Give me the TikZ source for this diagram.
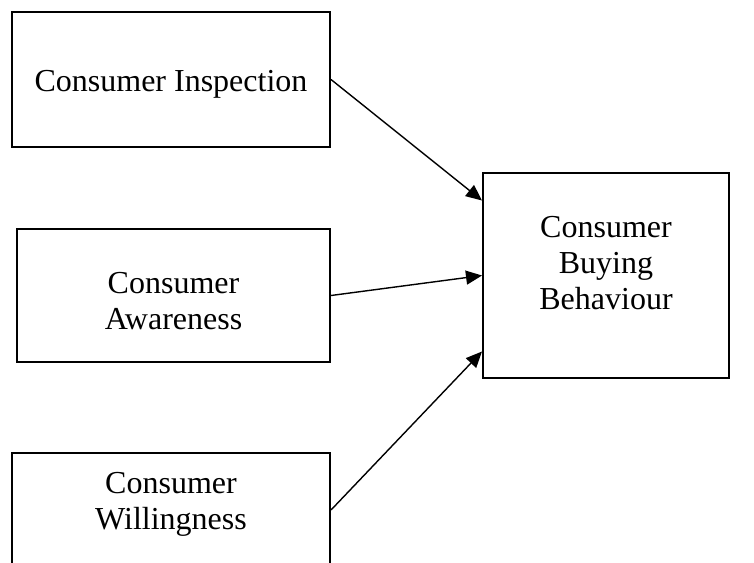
\documentclass[tikz,border=0pt]{standalone}
\usepackage{fontspec}
\setmainfont{Liberation Serif}
\usetikzlibrary{arrows.meta}

\begin{document}
\begin{tikzpicture}[x=0.5pt, y=-0.5pt,
  boite/.style={draw, line width=1pt, inner sep=0pt},
  texte/.style={align=center, font=\fontsize{16}{18}\selectfont},
  fleche/.style={-{Triangle[length=8pt,width=7pt]}, line width=0.7pt}]
\useasboundingbox (0,0) rectangle (754,562);
\clip (0,0) rectangle (754,562);
\foreach \n/\x/\y/\w/\h/\ty/\t in {insp/171/79.5/318/135/84/Consumer Inspection,
    awar/173.5/295.5/313/133/301/Consumer\\Awareness,
    will/171/510/318/114/504/Consumer\\Willingness,
    buy/606/275.5/246/205/263/Consumer\\Buying\\Behaviour}
  {\node[boite, minimum width=\w*0.5pt, minimum height=\h*0.5pt] (\n) at (\x,\y) {};
   \node[texte] (\n-t) at (\x,\ty) {\t};}
\draw[fleche] (insp.east) -- ([yshift=37.5pt]buy.west);
\draw[fleche] (awar.east) -- (buy.west);
\draw[fleche] (will.east) -- ([yshift=-38pt]buy.west);
\end{tikzpicture}
\end{document}
